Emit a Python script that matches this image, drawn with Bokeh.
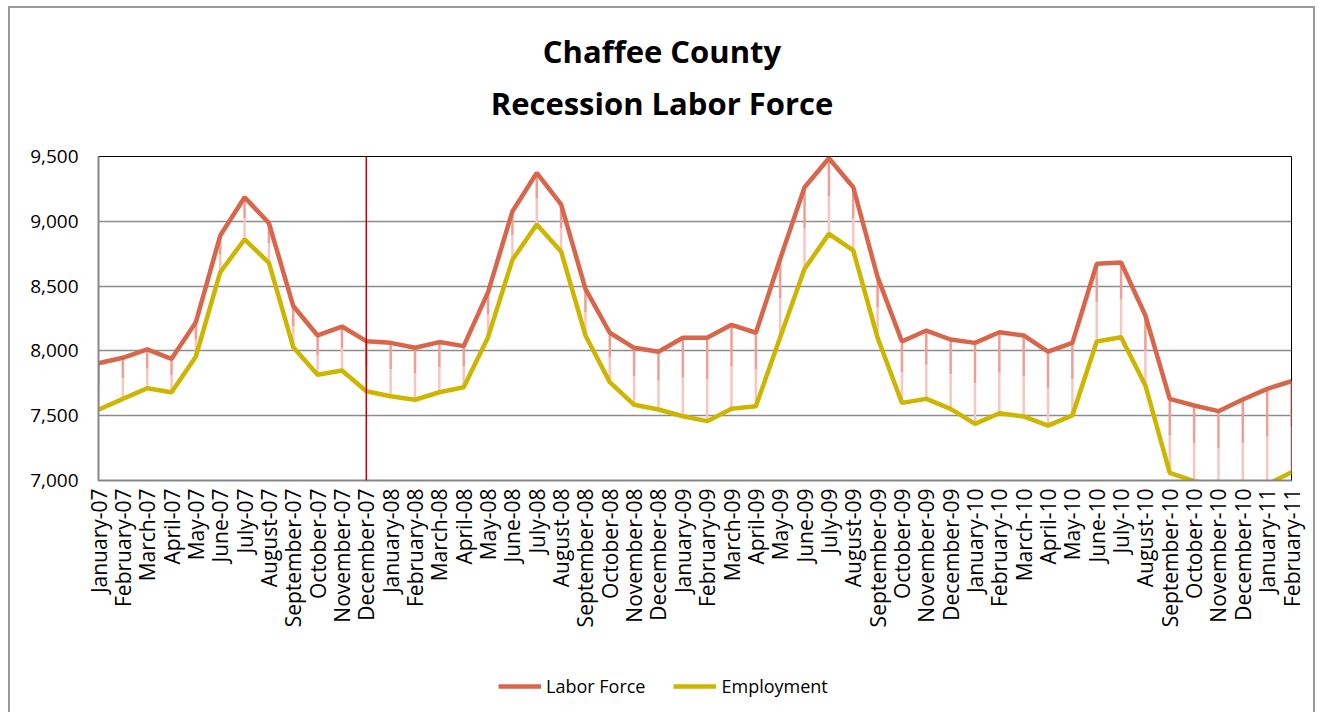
from bokeh.plotting import figure
from bokeh.models import (ColumnDataSource, FixedTicker, NumeralTickFormatter, Range1d,
                          Span, Legend, LegendItem)
from bokeh.layouts import column
from bokeh.core.properties import value
from bokeh.embed import file_html
from bokeh.resources import INLINE
import math

months = ["January-07", "February-07", "March-07", "April-07", "May-07", "June-07",
          "July-07", "August-07", "September-07", "October-07", "November-07", "December-07",
          "January-08", "February-08", "March-08", "April-08", "May-08", "June-08",
          "July-08", "August-08", "September-08", "October-08", "November-08", "December-08",
          "January-09", "February-09", "March-09", "April-09", "May-09", "June-09",
          "July-09", "August-09", "September-09", "October-09", "November-09", "December-09",
          "January-10", "February-10", "March-10", "April-10", "May-10", "June-10",
          "July-10", "August-10", "September-10", "October-10", "November-10", "December-10",
          "January-11", "February-11"]

labor_force = [7905, 7947, 8011, 7939, 8222, 8890, 9186, 8986, 8346, 8119, 8188, 8075,
               8062, 8024, 8068, 8037, 8453, 9076, 9374, 9130, 8479, 8140, 8024, 7993,
               8101, 8101, 8201, 8140, 8711, 9263, 9487, 9263, 8569, 8073, 8157, 8088,
               8062, 8144, 8119, 7995, 8062, 8672, 8682, 8273, 7630, 7579, 7535, 7625,
               7707, 7766]

employment = [7546, 7630, 7712, 7681, 7957, 8607, 8860, 8680, 8029, 7816, 7849, 7689,
              7650, 7623, 7681, 7720, 8106, 8703, 8975, 8767, 8119, 7759, 7584, 7548,
              7496, 7458, 7553, 7573, 8106, 8633, 8903, 8775, 8101, 7599, 7630, 7553,
              7437, 7519, 7494, 7424, 7502, 8073, 8106, 7733, 7059, 6995, 6960, 6950,
              6970, 7064]

series_names = ["Labor Force", "Employment"]
y_ticks = [7000, 7500, 8000, 8500, 9000, 9500]
marker_month = "December-07"
title_lines = ["Chaffee County", "Recession Labor Force"]

FONT = "Open Sans"
LF_COLOR = "#D9654A"
EMP_COLOR = "#CDB500"
W = 1303
FW = 1193          # frame width (frames are aligned in the column)

idx = list(range(len(months)))
mid = [(a + b) / 2 for a, b in zip(labor_force, employment)]
src = ColumnDataSource(dict(x=idx, lf=labor_force, emp=employment, mid=mid))

# ---------- title strip ----------
TH = 134
pt = figure(width=W, height=TH, output_backend="svg", toolbar_location=None,
            x_range=Range1d(0, FW), y_range=Range1d(0, TH),
            x_axis_location=None, y_axis_location=None,
            min_border_left=0, min_border_right=0, min_border_top=0, min_border_bottom=0)
pt.outline_line_color = None
pt.grid.grid_line_color = None
pt.title = None
pt.text(x=[563.5, 563.5], y=[TH - 42, TH - 94], text=title_lines,
        text_font=value(FONT), text_font_size="31px", text_font_style="bold",
        text_color="black", text_align="center", text_baseline="middle")

# ---------- main chart ----------
p = figure(frame_width=FW, frame_height=324, output_backend="svg", toolbar_location=None,
           x_range=Range1d(0, len(months) - 1), y_range=Range1d(y_ticks[0], y_ticks[-1]),
           min_border_left=88, min_border_right=22, min_border_top=14, min_border_bottom=180)
p.title = None
p.outline_line_color = "black"
p.outline_line_width = 1

# hi-low lines (gradient approximated with two parts)
p.segment(x0="x", y0="lf", x1="x", y1="mid", source=src, line_color="#F09E93", line_width=2.5)
p.segment(x0="x", y0="mid", x1="x", y1="emp", source=src, line_color="#F8C6C0", line_width=2.5)

p.line("x", "lf", source=src, line_color=LF_COLOR, line_width=4.5)
p.line("x", "emp", source=src, line_color=EMP_COLOR, line_width=4.5)

p.add_layout(Span(location=months.index(marker_month), dimension="height",
                  line_color="#C00000", line_width=1.5))

p.yaxis.ticker = FixedTicker(ticks=y_ticks)
p.yaxis.formatter = NumeralTickFormatter(format="0,0")
p.xaxis.ticker = FixedTicker(ticks=idx)
p.xaxis.major_label_overrides = {i: m for i, m in enumerate(months)}
p.xaxis.major_label_orientation = math.pi / 2
for ax in (p.xaxis, p.yaxis):
    ax.axis_line_color = "#878787"
    ax.axis_line_width = 2
    ax.major_tick_out = 0
    ax.major_tick_in = 0
    ax.minor_tick_out = 0
    ax.minor_tick_in = 0
    ax.major_label_text_font = FONT
    ax.major_label_text_color = "black"
p.yaxis.major_label_text_font_size = "19px"
p.xaxis.major_label_text_font_size = "21px"
p.yaxis.major_label_standoff = 20
p.xaxis.major_label_standoff = 8

p.xgrid.grid_line_color = None
p.ygrid.ticker = FixedTicker(ticks=y_ticks)
p.ygrid.grid_line_color = "#8c8c8c"
p.ygrid.grid_line_width = 1.5

# ---------- legend strip ----------
LH = 52
pl = figure(width=W, height=LH, output_backend="svg", toolbar_location=None,
            x_range=Range1d(0, 1), y_range=Range1d(0, 1),
            x_axis_location=None, y_axis_location=None,
            min_border_left=0, min_border_right=0, min_border_top=0, min_border_bottom=0)
pl.outline_line_color = None
pl.grid.grid_line_color = None
pl.title = None
# legend proxies drawn outside the visible range
g_lf = pl.line(x=[5, 6], y=[5, 6], line_color=LF_COLOR, line_width=4.5)
g_emp = pl.line(x=[5, 6], y=[5, 6], line_color=EMP_COLOR, line_width=4.5)
legend = Legend(items=[LegendItem(label=series_names[0], renderers=[g_lf]),
                       LegendItem(label=series_names[1], renderers=[g_emp])],
                orientation="horizontal", location=(400, 14),
                label_text_font=FONT, label_text_font_size="18px", label_text_color="black",
                glyph_width=43, spacing=28, border_line_color=None,
                background_fill_alpha=0, margin=0)
pl.add_layout(legend, "center")

layout = column(pt, p, pl, spacing=0,
                styles={"border-top": "2px solid #9a9a9a", "border-left": "2px solid #9a9a9a",
                        "border-right": "2px solid #9a9a9a", "margin-left": "8px",
                        "margin-top": "6px"})

open("out.html", "w").write(file_html(layout, INLINE))
